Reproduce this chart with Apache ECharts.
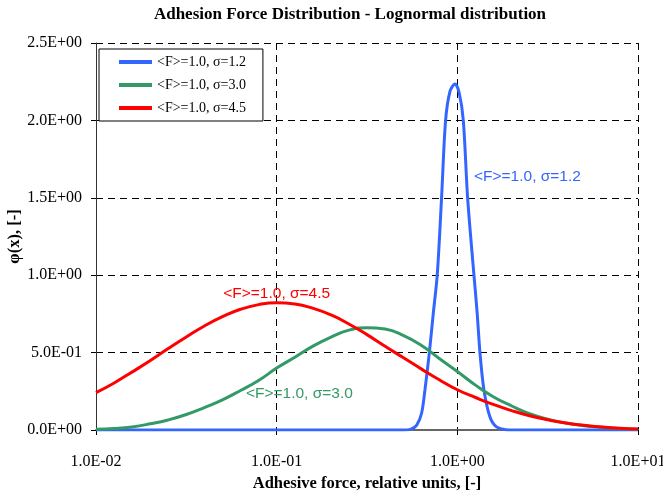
<!DOCTYPE html>
<html>
<head>
<meta charset="utf-8">
<script src="https://cdn.jsdelivr.net/npm/echarts@6/dist/echarts.min.js"></script>
<style>
html,body{margin:0;padding:0;background:#fff;}
#chart{width:663px;height:492px;}
</style>
</head>
<body>
<div id="chart"></div>
<script>
// ---- data ----
const titleText = 'Adhesion Force Distribution - Lognormal distribution';
const xName = 'Adhesive force, relative units, [-]';
const yName = 'φ(x), [-]';
const seriesNames = ['<F>=1.0, σ=1.2', '<F>=1.0, σ=3.0', '<F>=1.0, σ=4.5'];

// common x positions (relative force) for the two wide curves
const xWide = [0.01, 0.0126, 0.0158, 0.02, 0.0251, 0.0316, 0.0398, 0.0501, 0.0631, 0.0794,
  0.1, 0.126, 0.158, 0.2, 0.251, 0.316, 0.398, 0.501, 0.631, 0.794,
  1, 1.26, 1.58, 2, 2.51, 3.16, 3.98, 5.01, 6.31, 7.94, 10];

const greenY = [0.005, 0.010, 0.020, 0.040, 0.065, 0.100, 0.145, 0.195, 0.255, 0.320,
  0.400, 0.470, 0.540, 0.600, 0.645, 0.661, 0.652, 0.612, 0.548, 0.462,
  0.378, 0.290, 0.215, 0.155, 0.105, 0.070, 0.045, 0.028, 0.017, 0.010, 0.005];

const redY = [0.241, 0.304, 0.374, 0.449, 0.526, 0.601, 0.672, 0.732, 0.780, 0.810,
  0.822, 0.814, 0.787, 0.743, 0.685, 0.616, 0.541, 0.468, 0.395, 0.325,
  0.260, 0.210, 0.165, 0.125, 0.092, 0.066, 0.045, 0.031, 0.020, 0.012, 0.007];

// narrow curve, sampled more finely around 1
const xBlue = [0.01, 0.501, 0.55, 0.596, 0.634, 0.662, 0.7, 0.736, 0.774, 0.818, 0.861, 0.912,
  0.97, 1.023, 1.079, 1.14, 1.236, 1.288, 1.334, 1.403, 1.514, 1.648, 1.862, 2.0, 10];
const blueY = [0, 0, 0.004, 0.032, 0.108, 0.26, 0.5, 0.754, 1.0, 1.5, 2.0, 2.19,
  2.235, 2.18, 2.0, 1.5, 1.0, 0.754, 0.5, 0.26, 0.086, 0.02, 0.002, 0, 0];

// annotation anchors (data coords: x, y)
const annBlue = [1.236, 1.634];
const annGreen = [0.0676, 0.237];
const annRed = [0.0506, 0.883];

const colors = ['#3366FF', '#339966', '#FF0000'];

function zip(xs, ys) { return xs.map((x, i) => [x, ys[i]]); }
function fmtE(v) {
  const s = Number(v).toExponential(1);
  const parts = s.split('e');
  const n = parseInt(parts[1], 10);
  return parts[0] + 'E' + (n < 0 ? '-' : '+') + String(Math.abs(n)).padStart(2, '0');
}

const serif = '"Times New Roman", "Liberation Serif", serif';
const sans = 'Arial, "Liberation Sans", sans-serif';

const chart = echarts.init(document.getElementById('chart'), null, {renderer: 'canvas'});
const option = {
  animation: false,
  backgroundColor: '#fff',
  grid: {left: 96, right: 25, top: 43, bottom: 62, containLabel: false, outerBoundsMode: 'none'},
  legend: {
    orient: 'vertical', left: 99, top: 49,
    padding: [6, 17, 6, 20], itemGap: 9,
    itemWidth: 33, itemHeight: 4, icon: 'rect',
    borderColor: '#000', borderWidth: 1, backgroundColor: '#fff',
    textStyle: {fontFamily: serif, fontSize: 14, color: '#000'},
    data: seriesNames
  },
  xAxis: {
    type: 'log', logBase: 10, min: 0.01, max: 10,
    name: xName, nameLocation: 'middle', nameGap: 45, nameMoveOverlap: false,
    nameTextStyle: {fontFamily: serif, fontSize: 16.5, fontWeight: 'bold', color: '#000'},
    axisLine: {show: true, lineStyle: {color: '#666', width: 2}},
    axisTick: {show: true, inside: false, length: 5, lineStyle: {color: '#000'}},
    minorTick: {show: false},
    axisLabel: {formatter: fmtE, fontFamily: serif, fontSize: 16, color: '#000', margin: 24},
    splitLine: {show: true, lineStyle: {color: '#000', type: [7, 5], width: 1}}
  },
  yAxis: {
    type: 'value', min: 0, max: 2.5, interval: 0.5,
    name: yName, nameLocation: 'middle', nameGap: 73, nameMoveOverlap: false,
    nameTextStyle: {fontFamily: serif, fontSize: 16.5, fontWeight: 'bold', color: '#000'},
    axisLine: {show: true, lineStyle: {color: '#333', width: 1}},
    axisTick: {show: true, inside: false, length: 5, lineStyle: {color: '#000'}},
    axisLabel: {formatter: fmtE, fontFamily: serif, fontSize: 16, color: '#000', margin: 14},
    splitLine: {show: true, lineStyle: {color: '#000', type: [7, 5], width: 1}}
  },
  series: [
    {name: seriesNames[0], type: 'line', data: zip(xBlue, blueY), showSymbol: false, smooth: 0.3,
     lineStyle: {color: colors[0], width: 3}, itemStyle: {color: colors[0]}, z: 2},
    {name: seriesNames[1], type: 'line', data: zip(xWide, greenY), showSymbol: false, smooth: true,
     lineStyle: {color: colors[1], width: 3}, itemStyle: {color: colors[1]}, z: 3},
    {name: seriesNames[2], type: 'line', data: zip(xWide, redY), showSymbol: false, smooth: true,
     lineStyle: {color: colors[2], width: 3}, itemStyle: {color: colors[2]}, z: 4}
  ]
};
chart.setOption(option);

const pB = chart.convertToPixel({gridIndex: 0}, annBlue);
const pG = chart.convertToPixel({gridIndex: 0}, annGreen);
const pR = chart.convertToPixel({gridIndex: 0}, annRed);
chart.setOption({
  graphic: [
    {type: 'text', x: 350, y: 15, z: 10,
     style: {text: titleText, font: 'bold 17px ' + serif, fill: '#000', textAlign: 'center', textVerticalAlign: 'middle'}},
    {type: 'text', x: pB[0], y: pB[1], z: 10,
     style: {text: seriesNames[0], font: '15.5px ' + sans, fill: colors[0], textVerticalAlign: 'middle'}},
    {type: 'text', x: pG[0], y: pG[1], z: 10,
     style: {text: seriesNames[1], font: '15.5px ' + sans, fill: colors[1], textVerticalAlign: 'middle'}},
    {type: 'text', x: pR[0], y: pR[1], z: 10,
     style: {text: seriesNames[2], font: '15.5px ' + sans, fill: colors[2], textVerticalAlign: 'middle'}}
  ]
});
</script>
</body>
</html>
